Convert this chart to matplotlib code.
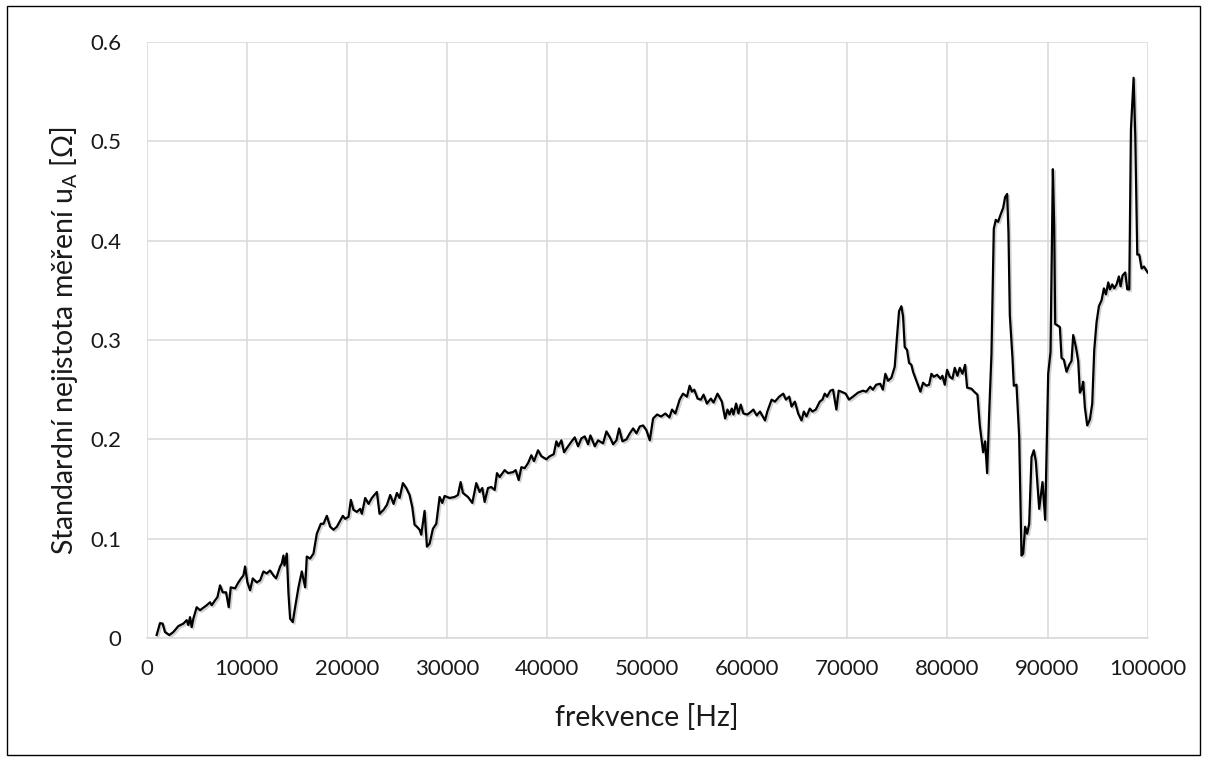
import matplotlib
matplotlib.use("Agg")
import matplotlib.pyplot as plt
import matplotlib.patheffects as pe
from matplotlib.patches import Rectangle

# frequency [Hz] and standard uncertainty u_A [Ohm]
freq = [
    1000, 1333, 1600, 1833, 2267, 2667, 3167, 3667, 4000, 4167, 4333, 4500, 4667, 5000,
    5333, 6000, 6333, 6500, 6833, 7067, 7333, 7600, 7933, 8200, 8400, 8833, 9167, 9433,
    9667, 9833, 10067, 10333, 10600, 11000, 11333, 11667, 12000, 12333, 12667, 12933,
    13333, 13500, 13667, 13767, 14000, 14167, 14333, 14600, 14833, 15167, 15500, 15833,
    16000, 16333, 16667, 17000, 17400, 17667, 18000, 18333, 18667, 19000, 19267, 19600,
    19833, 20167, 20400, 20667, 21000, 21333, 21500, 21833, 22167, 22500, 23000, 23267,
    23667, 24000, 24333, 24667, 25000, 25267, 25600, 25933, 26267, 26533, 26767, 27000,
    27267, 27433, 27767, 28000, 28267, 28600, 28933, 29267, 29533, 29767, 30267, 30767,
    31100, 31367, 31600, 32100, 32533, 32933, 33267, 33533, 33767, 34100, 34433, 34767,
    35000, 35267, 35767, 36100, 36600, 36867, 37167, 37433, 37767, 38100, 38433, 38700,
    39100, 39433, 39933, 40267, 40667, 40933, 41133, 41433, 41700, 42100, 42533, 42767,
    43100, 43433, 43767, 44100, 44333, 44767, 45100, 45600, 45933, 46333, 46600, 46933,
    47200, 47533, 47933, 48267, 48600, 48933, 49267, 49600, 49934, 50265, 50597, 50995,
    51393, 51824, 52222, 52488, 52819, 53250, 53582, 53980, 54245, 54478, 54710, 55041,
    55373, 55638, 55970, 56368, 56633, 57031, 57463, 57794, 58027, 58226, 58458, 58624,
    58889, 59121, 59353, 59619, 60017, 60282, 60614, 60945, 61277, 61774, 62007, 62438,
    62769, 63201, 63599, 63864, 64196, 64428, 64760, 65091, 65423, 65655, 65920, 66252,
    66517, 66849, 67247, 67512, 67745, 67977, 68308, 68574, 68905, 69138, 69403, 69834,
    70166, 70564, 71061, 71559, 71891, 72289, 72554, 72886, 73284, 73549, 73800, 74067,
    74400, 74733, 74967, 75167, 75400, 75567, 75733, 75967, 76167, 76400, 76567, 76900,
    77300, 77567, 77900, 78167, 78400, 78633, 78967, 79300, 79500, 79733, 79967, 80233,
    80500, 80733, 81000, 81233, 81500, 81767, 81967, 82400, 82667, 83000, 83233, 83567,
    83767, 83967, 84167, 84400, 84633, 84833, 85067, 85300, 85567, 85767, 85967, 86100,
    86233, 86500, 86633, 86900, 87167, 87400, 87567, 87767, 87967, 88167, 88400, 88633,
    88833, 89167, 89500, 89767, 90067, 90300, 90533, 90667, 90767, 90967, 91233, 91400,
    91633, 91900, 92167, 92400, 92567, 92833, 93067, 93233, 93400, 93567, 93733, 93967,
    94233, 94467, 94667, 94900, 95133, 95400, 95633, 95833, 96067, 96233, 96467, 96667,
    96900, 97133, 97300, 97500, 97767, 97967, 98167, 98333, 98600, 98767, 98967, 99167,
    99400, 99633, 100000,
]
u_a = [
    0.003, 0.015, 0.0145, 0.006, 0.003, 0.006, 0.012, 0.0145, 0.018, 0.013, 0.021, 0.011,
    0.0195, 0.031, 0.028, 0.033, 0.036, 0.033, 0.038, 0.041, 0.053, 0.046, 0.046, 0.031,
    0.051, 0.050, 0.056, 0.060, 0.063, 0.072, 0.056, 0.048, 0.060, 0.056, 0.058, 0.067,
    0.065, 0.068, 0.063, 0.060, 0.072, 0.075, 0.083, 0.073, 0.085, 0.045, 0.0195, 0.016,
    0.031, 0.051, 0.067, 0.051, 0.082, 0.080, 0.085, 0.105, 0.115, 0.115, 0.123, 0.112,
    0.109, 0.112, 0.117, 0.123, 0.120, 0.122, 0.139, 0.129, 0.127, 0.130, 0.125, 0.141,
    0.135, 0.141, 0.147, 0.125, 0.129, 0.134, 0.144, 0.135, 0.146, 0.141, 0.156, 0.151,
    0.144, 0.132, 0.114, 0.112, 0.109, 0.104, 0.128, 0.092, 0.095, 0.110, 0.115, 0.142,
    0.136, 0.143, 0.141, 0.142, 0.144, 0.157, 0.146, 0.142, 0.136, 0.156, 0.147, 0.151,
    0.137, 0.151, 0.152, 0.149, 0.166, 0.162, 0.169, 0.166, 0.167, 0.169, 0.159, 0.172,
    0.171, 0.176, 0.184, 0.178, 0.189, 0.183, 0.180, 0.183, 0.185, 0.198, 0.193, 0.199,
    0.187, 0.193, 0.199, 0.202, 0.193, 0.201, 0.203, 0.195, 0.204, 0.193, 0.199, 0.196,
    0.208, 0.201, 0.195, 0.199, 0.211, 0.198, 0.200, 0.206, 0.211, 0.206, 0.213, 0.214,
    0.209, 0.199, 0.221, 0.225, 0.223, 0.226, 0.222, 0.230, 0.226, 0.240, 0.246, 0.243,
    0.254, 0.248, 0.250, 0.241, 0.240, 0.245, 0.236, 0.241, 0.237, 0.246, 0.238, 0.221,
    0.230, 0.225, 0.231, 0.225, 0.236, 0.226, 0.235, 0.226, 0.225, 0.227, 0.230, 0.224,
    0.228, 0.219, 0.228, 0.240, 0.238, 0.243, 0.246, 0.240, 0.243, 0.233, 0.238, 0.226,
    0.219, 0.228, 0.223, 0.231, 0.228, 0.230, 0.238, 0.240, 0.246, 0.243, 0.249, 0.250,
    0.230, 0.249, 0.248, 0.246, 0.240, 0.243, 0.247, 0.249, 0.248, 0.253, 0.250, 0.255,
    0.256, 0.250, 0.266, 0.259, 0.262, 0.273, 0.304, 0.329, 0.334, 0.324, 0.293, 0.290,
    0.277, 0.275, 0.268, 0.259, 0.248, 0.257, 0.254, 0.255, 0.266, 0.263, 0.265, 0.261,
    0.264, 0.255, 0.270, 0.263, 0.261, 0.272, 0.264, 0.272, 0.266, 0.275, 0.252, 0.251,
    0.248, 0.245, 0.214, 0.187, 0.198, 0.166, 0.225, 0.286, 0.412, 0.421, 0.419, 0.426,
    0.433, 0.444, 0.447, 0.408, 0.325, 0.282, 0.254, 0.255, 0.203, 0.083, 0.085, 0.112,
    0.105, 0.115, 0.182, 0.189, 0.178, 0.130, 0.157, 0.119, 0.266, 0.288, 0.472, 0.415,
    0.316, 0.315, 0.313, 0.282, 0.280, 0.268, 0.275, 0.279, 0.305, 0.293, 0.279, 0.247,
    0.250, 0.258, 0.232, 0.214, 0.220, 0.236, 0.290, 0.318, 0.334, 0.340, 0.352, 0.346,
    0.358, 0.351, 0.356, 0.352, 0.356, 0.364, 0.354, 0.365, 0.368, 0.351, 0.351, 0.512,
    0.564, 0.505, 0.386, 0.386, 0.372, 0.374, 0.368,
]

x_ticks = [0, 10000, 20000, 30000, 40000, 50000, 60000, 70000, 80000, 90000, 100000]
y_ticks = [0, 0.1, 0.2, 0.3, 0.4, 0.5, 0.6]
y_tick_labels = ["0", "0.1", "0.2", "0.3", "0.4", "0.5", "0.6"]

plt.rcParams["font.family"] = ["Lato", "DejaVu Sans"]

fig = plt.figure(figsize=(12.07, 7.6), dpi=100)
ax = fig.add_axes([0.1215, 0.1605, 0.8293, 0.7842])

grid_color = "#d9d9d9"
ax.plot(freq, u_a, color="black", linewidth=1.6, solid_joinstyle="round",
        path_effects=[pe.SimpleLineShadow(offset=(1.2, -1.2), shadow_color="black", alpha=0.18),
                      pe.Normal()])

ax.set_xlim(0, 100000)
ax.set_ylim(0, 0.6)
ax.set_xticks(x_ticks)
ax.set_xticklabels([str(t) for t in x_ticks])
ax.set_yticks(y_ticks)
ax.set_yticklabels(y_tick_labels)
ax.grid(True, color=grid_color, linewidth=1.1)
ax.set_axisbelow(True)
ax.tick_params(length=0, labelsize=16, colors="#1a1a1a")
ax.tick_params(axis="x", pad=15)
ax.tick_params(axis="y", pad=18)

for side in ["top", "right", "left"]:
    ax.spines[side].set_visible(False)
ax.spines["bottom"].set_color(grid_color)
ax.spines["bottom"].set_linewidth(1.1)

# axis titles placed where they sit in the reference
fig.text(646.5 / 1207, 1 - 717 / 760, "frekvence [Hz]", fontsize=20.5,
         ha="center", va="center", color="#1a1a1a")
fig.text(64 / 1207, 1 - 341 / 760, "Standardní nejistota měření u$_\\mathregular{A}$ [Ω]",
         fontsize=20.5, rotation=90, ha="center", va="center", color="#1a1a1a")

# thin black frame around the whole chart
fig.patches.append(Rectangle((0.006, 0.006), 0.988, 0.986, transform=fig.transFigure,
                             fill=False, edgecolor="black", linewidth=1.0))

fig.savefig("out.png", dpi=100)
